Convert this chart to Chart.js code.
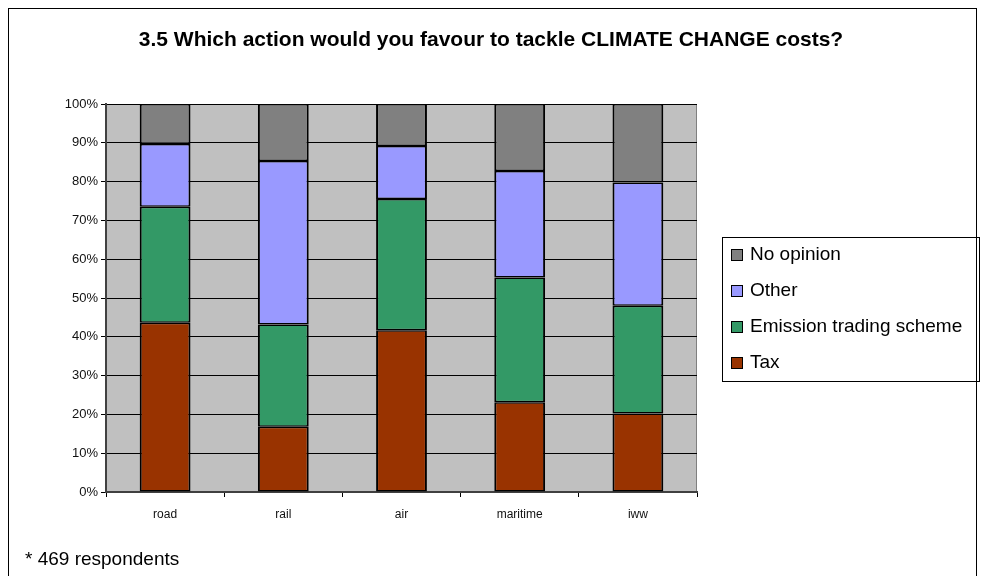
<!DOCTYPE html>
<html>
<head>
<meta charset="utf-8">
<script src="https://cdn.jsdelivr.net/npm/chart.js@4.4.1/dist/chart.umd.min.js"></script>
<style>
  html, body { margin: 0; padding: 0; background: #fff; }
  canvas { display: block; }
</style>
</head>
<body>
<canvas id="c" width="981" height="576"></canvas>
<script>
const modes = ['road', 'rail', 'air', 'maritime', 'iww'];
const tax = [43.6, 16.8, 41.7, 23.1, 20.2];
const emission = [29.9, 26.4, 33.8, 32.2, 27.8];
const other = [16.2, 42.1, 13.7, 27.4, 31.8];
const noOpinion = [10.3, 14.7, 10.8, 17.3, 20.2];
const yTicks = [0, 10, 20, 30, 40, 50, 60, 70, 80, 90, 100];

const FONT = "'Liberation Sans', Arial, sans-serif";

// frame, title, plot background, legend box and footnote
const decor = {
  id: 'decor',
  beforeDraw(chart) {
    const c = chart.ctx, a = chart.chartArea;
    c.save();
    c.fillStyle = '#fff';
    c.fillRect(0, 0, chart.width, chart.height);
    c.strokeStyle = '#000';
    c.lineWidth = 1;
    c.strokeRect(8.5, 8.5, 968, 600);
    c.fillStyle = '#c0c0c0';
    c.fillRect(a.left, a.top, a.right - a.left, a.bottom - a.top);
    c.strokeStyle = '#808080';
    c.beginPath();
    c.moveTo(a.left, a.top + 0.5);
    c.lineTo(a.right, a.top + 0.5);
    c.moveTo(a.right - 0.5, a.top);
    c.lineTo(a.right - 0.5, a.bottom);
    c.stroke();
    c.restore();
  },
  afterDraw(chart) {
    const c = chart.ctx;
    c.save();
    c.fillStyle = '#000';
    c.textAlign = 'center';
    c.textBaseline = 'middle';
    c.font = 'bold 21px ' + FONT;
    c.fillText('3.5 Which action would you favour to tackle CLIMATE CHANGE costs?', 491, 40);

    c.textAlign = 'left';
    c.font = '19px ' + FONT;
    c.fillText('* 469 respondents', 25, 560);

    // legend
    c.strokeStyle = '#000';
    c.lineWidth = 1;
    c.strokeRect(722.5, 237.5, 257, 144);
    const items = chart.data.datasets.slice().reverse();
    items.forEach((ds, i) => {
      const y = 255 + i * 36;
      c.fillStyle = ds.backgroundColor;
      c.fillRect(731, y - 6, 12, 12);
      c.strokeRect(731.5, y - 5.5, 11, 11);
      c.fillStyle = '#000';
      c.fillText(ds.label, 750, y);
    });
    c.restore();
  }
};

new Chart(document.getElementById('c'), {
  type: 'bar',
  data: {
    labels: modes,
    datasets: [
      { label: 'Tax', data: tax, backgroundColor: '#993300' },
      { label: 'Emission trading scheme', data: emission, backgroundColor: '#339966' },
      { label: 'Other', data: other, backgroundColor: '#9999ff' },
      { label: 'No opinion', data: noOpinion, backgroundColor: '#808080' }
    ].map(d => Object.assign(d, {
      borderColor: '#000',
      borderWidth: { left: 2, right: 2, top: 1.5, bottom: 1.5 },
      borderSkipped: false,
      categoryPercentage: 1, barPercentage: 0.43
    }))
  },
  options: {
    responsive: false,
    animation: false,
    layout: { padding: { left: 0, top: 104, right: 284, bottom: 54 } },
    plugins: { legend: { display: false }, title: { display: false }, tooltip: { enabled: false } },
    scales: {
      x: {
        stacked: true,
        offset: true,
        afterFit(s) { s.height = 30; },
        grid: { offset: true, drawOnChartArea: false, drawTicks: true, tickLength: 5, color: '#000' },
        border: { color: '#404040', width: 2 },
        ticks: { color: '#111', font: { family: FONT, size: 12 }, padding: 10 }
      },
      y: {
        stacked: true,
        min: 0, max: 100,
        afterFit(s) { s.width = 106; },
        afterBuildTicks(s) { s.ticks = yTicks.map(v => ({ value: v })); },
        grid: { color: '#000', lineWidth: 1, tickLength: 5 },
        border: { color: '#404040', width: 2 },
        ticks: { color: '#111', font: { family: FONT, size: 13 }, padding: 3, callback: v => v + '%' }
      }
    }
  },
  plugins: [decor]
});
</script>
</body>
</html>
